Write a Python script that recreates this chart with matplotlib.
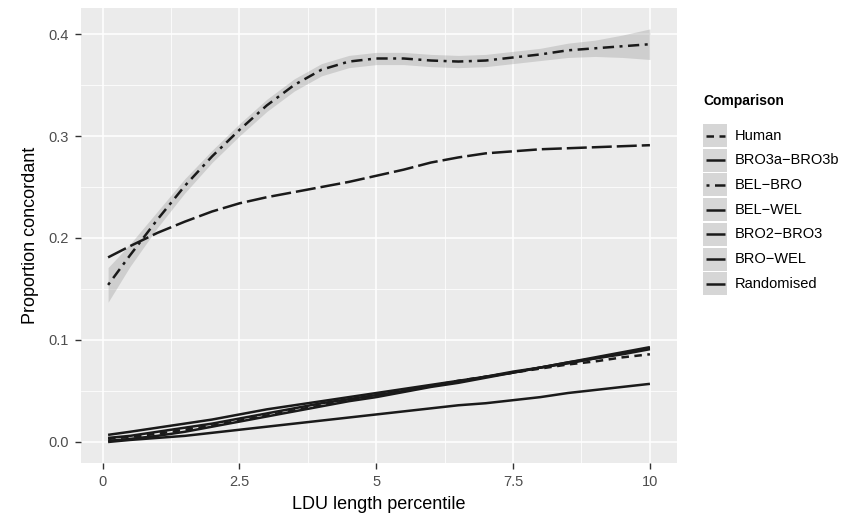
import numpy as np
import matplotlib
matplotlib.use("Agg")
from matplotlib import pyplot as plt
from matplotlib.patches import Rectangle

plt.rcParams['font.family'] = ['Liberation Sans', 'DejaVu Sans']

# percentile positions where the curves were read
x = [0.1, 0.5, 1, 1.5, 2, 2.5, 3, 3.5, 4, 4.5, 5, 5.5, 6, 6.5, 7, 7.5, 8, 8.5, 9, 9.5, 10]

human = [0.003, 0.005, 0.008, 0.012, 0.016, 0.021, 0.026, 0.031, 0.036, 0.041, 0.046,
         0.050, 0.055, 0.060, 0.064, 0.068, 0.072, 0.076, 0.079, 0.083, 0.086]
bro3a_bro3b = [0.007, 0.010, 0.014, 0.018, 0.022, 0.027, 0.032, 0.036, 0.040, 0.044, 0.048,
               0.052, 0.056, 0.060, 0.064, 0.069, 0.073, 0.078, 0.083, 0.088, 0.093]
bel_bro = [0.154, 0.183, 0.218, 0.251, 0.280, 0.306, 0.330, 0.350, 0.365, 0.373, 0.376,
           0.376, 0.374, 0.373, 0.374, 0.377, 0.380, 0.384, 0.386, 0.388, 0.390]
bel_bro_se = [0.017, 0.011, 0.008, 0.007, 0.006, 0.006, 0.006, 0.006, 0.006, 0.006, 0.006,
              0.006, 0.006, 0.006, 0.006, 0.006, 0.006, 0.007, 0.008, 0.011, 0.015]
bel_wel = [0.181, 0.192, 0.205, 0.216, 0.226, 0.234, 0.240, 0.245, 0.250, 0.255, 0.261,
           0.267, 0.274, 0.279, 0.283, 0.285, 0.287, 0.288, 0.289, 0.290, 0.291]
bro2_bro3 = [0.001, 0.003, 0.006, 0.010, 0.015, 0.020, 0.025, 0.030, 0.035, 0.040, 0.044,
             0.049, 0.054, 0.058, 0.063, 0.068, 0.073, 0.078, 0.082, 0.087, 0.092]
bro_wel = [0.004, 0.006, 0.010, 0.014, 0.018, 0.023, 0.028, 0.033, 0.038, 0.042, 0.046,
           0.050, 0.055, 0.059, 0.064, 0.068, 0.073, 0.077, 0.082, 0.086, 0.091]
randomised = [0.000, 0.002, 0.004, 0.006, 0.009, 0.012, 0.015, 0.018, 0.021, 0.024, 0.027,
              0.030, 0.033, 0.036, 0.038, 0.041, 0.044, 0.048, 0.051, 0.054, 0.057]

labels = ['Human', 'BRO3a\u2212BRO3b', 'BEL\u2212BRO', 'BEL\u2212WEL',
          'BRO2\u2212BRO3', 'BRO\u2212WEL', 'Randomised']
series = [human, bro3a_bro3b, bel_bro, bel_wel, bro2_bro3, bro_wel, randomised]
dashes = [(3, 2.2), None, (1.2, 2.2, 4.5, 2.2), (8, 2), None, None, None]

line_col = '#1a1a1a'
lw = 1.8

fig = plt.figure(figsize=(8.52, 5.26), dpi=100)
ax = fig.add_axes([81 / 852, 63 / 526, 596 / 852, 455 / 526])
ax.set_facecolor('#ebebeb')

# confidence band of the smoother
lo = np.array(bel_bro) - np.array(bel_bro_se)
hi = np.array(bel_bro) + np.array(bel_bro_se)
ax.fill_between(x, lo, hi, color='#999999', alpha=0.35, lw=0, zorder=2)

for ys, d in zip(series, dashes):
    ln, = ax.plot(x, ys, color=line_col, lw=lw, zorder=3, solid_capstyle='butt',
                  dash_capstyle='butt')
    if d is not None:
        ln.set_dashes(d)

ax.set_xlim(-0.395, 10.495)
ax.set_ylim(-0.0206, 0.4255)
ax.set_xticks([0, 2.5, 5, 7.5, 10])
ax.set_xticklabels(['0', '2.5', '5', '7.5', '10'])
ax.set_xticks([1.25, 3.75, 6.25, 8.75], minor=True)
ax.set_yticks([0.0, 0.1, 0.2, 0.3, 0.4])
ax.set_yticklabels(['0.0', '0.1', '0.2', '0.3', '0.4'])
ax.set_yticks([0.05, 0.15, 0.25, 0.35], minor=True)
ax.grid(which='major', color='white', lw=1.1, zorder=1)
ax.grid(which='minor', color='white', lw=0.55, zorder=1)
ax.set_axisbelow(True)
for s in ax.spines.values():
    s.set_visible(False)
ax.tick_params(which='major', length=4.5, width=1.0, color='#333333',
               labelcolor='#4d4d4d', labelsize=10.5, pad=4)
ax.tick_params(which='minor', length=0)

ax.set_xlabel('LDU length percentile', fontsize=13, color='black', labelpad=5)
ax.set_ylabel('Proportion concordant', fontsize=13, color='black', labelpad=7)

# legend drawn in pixel coordinates
leg = fig.add_axes([0, 0, 1, 1], facecolor='none')
leg.set_xlim(0, 852)
leg.set_ylim(526, 0)
leg.axis('off')
leg.text(703, 101, 'Comparison', fontsize=10, fontweight='bold', va='center', ha='left')
for i, (lab, d) in enumerate(zip(labels, dashes)):
    cy = 135.5 + i * 24.7
    leg.add_patch(Rectangle((703, cy - 11.5), 24, 23, facecolor='#d6d6d6', edgecolor='none'))
    ln, = leg.plot([705.5, 724.5], [cy, cy], color=line_col, lw=lw, solid_capstyle='butt',
                   dash_capstyle='butt')
    if d is not None:
        ln.set_dashes(d)
    leg.text(735, cy, lab, fontsize=10.5, va='center', ha='left', color='black')

fig.savefig('out.png', dpi=100)
